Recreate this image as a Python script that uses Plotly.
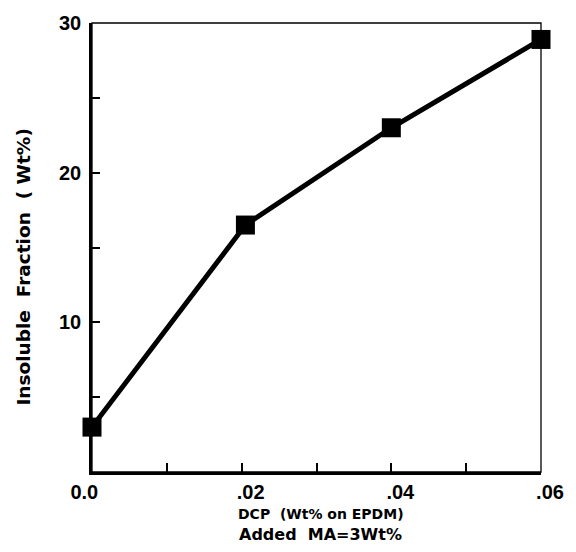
import plotly.graph_objects as go

dcp = [0.0, 0.0205, 0.04, 0.06]
insoluble = [3.0, 16.5, 23.0, 28.9]

x_tickvals = [0.0, 0.01, 0.02, 0.03, 0.04, 0.05, 0.06]
x_ticktext = ["0.0" + "\u00a0" * 6, "", ".02", "", ".04", "", ".06"]
y_tickvals = [0, 5, 10, 15, 20, 25, 30]
y_ticktext = ["", "", "10", "", "20", "", "30"]

FONT = "Liberation Sans, Arial, sans-serif"
WIDE = "DejaVu Sans, sans-serif"

fig = go.Figure()
fig.add_trace(go.Scatter(
    x=dcp, y=insoluble, mode="lines+markers",
    line=dict(color="black", width=5),
    marker=dict(symbol="square", size=19, color="black"),
    cliponaxis=False, showlegend=False,
))

fig.update_layout(
    width=576, height=552,
    margin=dict(l=92, r=31, t=16, b=80),
    paper_bgcolor="white", plot_bgcolor="white",
    font=dict(family=FONT, color="black"),
    xaxis=dict(
        range=[0, 0.06], tickmode="array", tickvals=x_tickvals, ticktext=x_ticktext,
        ticks="inside", ticklen=9, tickwidth=2, tickcolor="black",
        showline=True, linewidth=2.5, linecolor="black", showgrid=False, zeroline=False,
        tickfont=dict(size=20, family=FONT, weight="bold"), ticklabelshift=9,
    ),
    yaxis=dict(
        range=[0, 30], tickmode="array", tickvals=y_tickvals, ticktext=y_ticktext,
        ticks="inside", ticklen=8, tickwidth=2, tickcolor="black",
        showline=True, linewidth=2.5, linecolor="black", showgrid=False, zeroline=False,
        tickfont=dict(size=20, family=FONT, weight="bold"), ticklabelstandoff=4,
    ),
    shapes=[dict(type="rect", xref="paper", yref="paper", x0=0, y0=0, x1=1, y1=1,
                 line=dict(color="black", width=1.3), layer="below")],
    annotations=[
        dict(text="<b>Insoluble  Fraction  ( Wt%)</b>", xref="paper", yref="paper",
             x=-0.152, y=0.457, textangle=-90, showarrow=False,
             xanchor="center", yanchor="middle", font=dict(size=18.5, family=WIDE)),
        dict(text="<b>DCP  (Wt% on EPDM)</b>", xref="paper", yref="paper",
             x=0.51, y=0, yshift=-42, showarrow=False,
             xanchor="center", yanchor="middle", font=dict(size=14, family=WIDE)),
        dict(text="<b>Added  MA=3Wt%</b>", xref="paper", yref="paper",
             x=0.51, y=0, yshift=-62, showarrow=False,
             xanchor="center", yanchor="middle", font=dict(size=16, family=WIDE)),
    ],
)

fig.write_html("out.html")
